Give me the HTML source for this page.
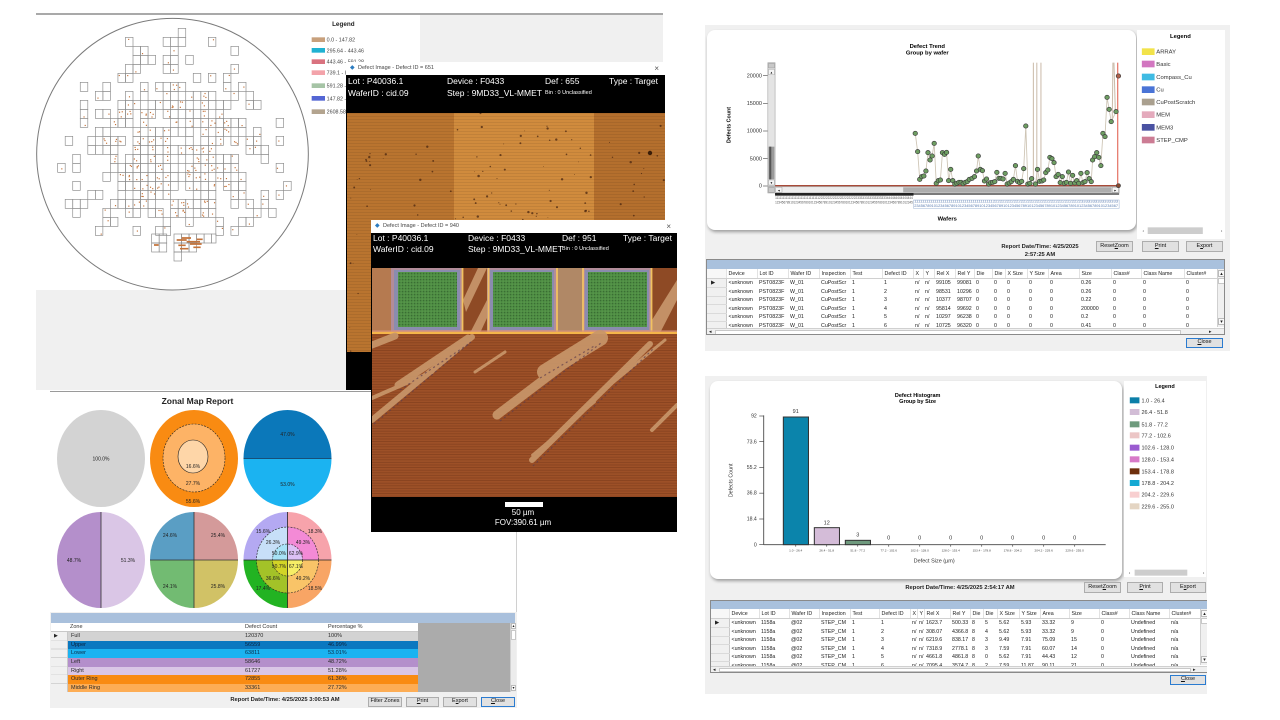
<!DOCTYPE html>
<html><head><meta charset="utf-8"><title>Defect reports</title>
<style>
*{box-sizing:border-box}
html,body{margin:0;padding:0}
body{width:1280px;height:720px;position:relative;overflow:hidden;background:#fff;font-family:"Liberation Sans",Arial,sans-serif;color:#222}
.a{position:absolute}
.btn{position:absolute;background:#e1e1e1;border:1px solid #adadad;font-size:5.5px;color:#111;display:flex;align-items:center;justify-content:center;line-height:1;white-space:nowrap}
.hd{position:absolute;color:#fff;font-size:8.5px;line-height:10px;white-space:nowrap}
.sm{font-size:5.5px}
.tb{position:absolute;left:0;top:0;right:0;height:13px;background:#fff;font-size:5.5px;color:#444;line-height:13px;padding-left:12px;white-space:nowrap}
.tb i{position:absolute;left:4px;top:0;font-style:normal;color:#2b7cc0;font-size:6px}
.tb b{position:absolute;right:6px;top:0;font-weight:normal;color:#555;font-size:8px}
table.g{position:absolute;border-collapse:collapse;table-layout:fixed;font-size:5.3px;color:#222}
table.g td{height:8.5px;padding:0 0 0 2px;white-space:nowrap;overflow:hidden;line-height:8px}
table.g tr.h td{height:9.4px;border-right:1px solid #e2e2e2;border-bottom:1px solid #d0d0d0}
table.g td.rh{background:#f0f0f0;border-right:1px solid #c8c8c8;border-bottom:1px solid #dadada;padding:0 0 0 4px}
#dies rect{fill:none;stroke:#8c8c8c;stroke-width:2}
#dies rect.sp{fill:#c4733a;stroke:none}
.zr{position:relative;height:8.65px;font-size:5.5px;line-height:8.65px}
.zr span{position:absolute;top:0}
</style></head>
<body>

<!-- ================= WAFER MAP PANEL ================= -->
<div class="a" style="left:36px;top:13px;width:627px;height:377px;background:#f0f0f0;border-top:2px solid #a9a9a9"></div>
<div class="a" style="left:36px;top:15px;width:384px;height:275px;background:#fff"></div>
<svg class="a" style="left:30px;top:10px" width="400" height="290" viewBox="0 0 1200 870">
  <g id="dies"></g>
  <g fill="none" stroke="#8c8c8c" stroke-width="2">
    <rect x="365" y="672" width="22.6" height="27"/><rect x="387.6" y="672" width="22.6" height="27"/>
    <rect x="365" y="699" width="22.6" height="27"/><rect x="387.6" y="699" width="22.6" height="27"/>
    <rect x="432" y="672" width="22.6" height="27"/><rect x="454.6" y="672" width="22.6" height="27"/><rect x="477.2" y="672" width="22.6" height="27"/><rect x="499.8" y="672" width="22.6" height="27"/><rect x="522.4" y="672" width="22.6" height="27"/><rect x="545" y="672" width="13" height="27"/>
    <rect x="432" y="699" width="22.6" height="27"/><rect x="454.6" y="699" width="22.6" height="27"/><rect x="477.2" y="699" width="22.6" height="27"/>
    <rect x="432" y="726" width="22.6" height="27"/>
  </g>
  <path d="M440 690h30M455 684h28M470 695h40M445 706h22M480 702h35M450 716h25M490 712h22M372 705h14M500 688h18" stroke="#c4733a" stroke-width="5" fill="none"/>
  <ellipse cx="427.5" cy="432.5" rx="407.5" ry="407.5" fill="none" stroke="#7a7a7a" stroke-width="3"/>
  <text x="940" y="48" font-size="19" font-weight="bold" text-anchor="middle" fill="#222">Legend</text>
  <g font-size="16" fill="#444">
    <rect x="845" y="82" width="40" height="14" fill="#c8a07c"/><text x="890" y="95">0.0 - 147.82</text>
    <rect x="845" y="114" width="40" height="14" fill="#1fb2d2"/><text x="890" y="127">295.64 - 443.46</text>
    <rect x="845" y="148" width="40" height="14" fill="#d9727f"/><text x="890" y="161">443.46 - 591.28</text>
    <rect x="845" y="181" width="40" height="14" fill="#f3a3aa"/><text x="890" y="194">739.1 - 886.92</text>
    <rect x="845" y="220" width="40" height="14" fill="#a6c4a6"/><text x="890" y="233">591.28 - 739.1</text>
    <rect x="845" y="258" width="40" height="14" fill="#5466d4"/><text x="890" y="271">147.82 - 295.64</text>
    <rect x="845" y="298" width="40" height="14" fill="#b3a48f"/><text x="890" y="311">2608.58 - 2756.4</text>
  </g>
</svg>

<!-- ================= ZONAL MAP REPORT ================= -->
<div class="a" style="left:50px;top:391px;width:467px;height:317px;background:#f0f0f0;border-top:1px solid #9a9a9a"></div>
<div class="a" style="left:50px;top:392px;width:467px;height:220px;background:#fff;border-right:1px solid #d0d0d0"></div>
<div class="a" style="left:140px;top:396px;width:115px;text-align:center;font-size:8.5px;font-weight:bold;line-height:10px">Zonal Map Report</div>
<svg class="a" style="left:50px;top:392px" width="470" height="220" viewBox="50 392 470 220">
  <defs>
    <clipPath id="c3"><ellipse cx="287.5" cy="458.5" rx="44" ry="48.5"/></clipPath>
    <clipPath id="c4"><ellipse cx="101" cy="560" rx="44" ry="48"/></clipPath>
    <clipPath id="c5"><ellipse cx="194" cy="560" rx="44" ry="48"/></clipPath>
    <clipPath id="c6o"><ellipse cx="287.5" cy="560" rx="44" ry="48"/></clipPath>
    <clipPath id="c6m"><ellipse cx="287.5" cy="560" rx="31" ry="33"/></clipPath>
    <clipPath id="c6i"><ellipse cx="287.5" cy="560" rx="15" ry="16"/></clipPath>
  </defs>
  <ellipse cx="101" cy="458.5" rx="44" ry="48.5" fill="#d3d3d3"/>
  <ellipse cx="194" cy="458.5" rx="44" ry="48.5" fill="#f98b12"/>
  <ellipse cx="194" cy="458" rx="31" ry="34" fill="#fdb366" stroke="#222" stroke-width=".6" stroke-dasharray="2 1.2"/>
  <ellipse cx="193" cy="456.5" rx="15" ry="16.5" fill="#fed6a8" stroke="#222" stroke-width=".6"/>
  <g clip-path="url(#c3)">
    <rect x="240" y="405" width="95" height="53.5" fill="#0b78ba"/>
    <rect x="240" y="458.5" width="95" height="55" fill="#1bb3f1"/>
    <line x1="240" y1="458.5" x2="335" y2="458.5" stroke="#1a3a5a" stroke-width=".7"/>
  </g>
  <g clip-path="url(#c4)">
    <rect x="55" y="510" width="46" height="100" fill="#b48fcb"/>
    <rect x="101" y="510" width="46" height="100" fill="#dac6e6"/>
    <line x1="101" y1="510" x2="101" y2="610" stroke="#333" stroke-width=".8"/>
  </g>
  <g clip-path="url(#c5)">
    <rect x="148" y="510" width="46" height="50" fill="#5a9ec4"/>
    <rect x="194" y="510" width="46" height="50" fill="#d49a9a"/>
    <rect x="148" y="560" width="46" height="50" fill="#72bb72"/>
    <rect x="194" y="560" width="46" height="50" fill="#d1c266"/>
    <line x1="194" y1="510" x2="194" y2="610" stroke="#333" stroke-width=".8"/>
    <line x1="148" y1="560" x2="240" y2="560" stroke="#333" stroke-width=".8"/>
  </g>
  <g clip-path="url(#c6o)">
    <rect x="242" y="510" width="45.5" height="50" fill="#b4a9f2"/>
    <rect x="287.5" y="510" width="46" height="50" fill="#f7a3ab"/>
    <rect x="242" y="560" width="45.5" height="50" fill="#22b322"/>
    <rect x="287.5" y="560" width="46" height="50" fill="#f8a565"/>
  </g>
  <g clip-path="url(#c6m)">
    <rect x="255" y="525" width="32.5" height="35" fill="#c7dff8"/>
    <rect x="287.5" y="525" width="33" height="35" fill="#f38ad6"/>
    <rect x="255" y="560" width="32.5" height="35" fill="#a3c228"/>
    <rect x="287.5" y="560" width="33" height="35" fill="#f9c468"/>
  </g>
  <g clip-path="url(#c6i)">
    <rect x="270" y="542" width="17.5" height="18" fill="#a7e3f7"/>
    <rect x="287.5" y="542" width="18" height="18" fill="#dcc1f5"/>
    <rect x="270" y="560" width="17.5" height="18" fill="#d2d426"/>
    <rect x="287.5" y="560" width="18" height="18" fill="#f7ee66"/>
  </g>
  <ellipse cx="287.5" cy="560" rx="31" ry="33" fill="none" stroke="#222" stroke-width=".6" stroke-dasharray="2 1.2"/>
  <ellipse cx="287.5" cy="560" rx="15" ry="16" fill="none" stroke="#222" stroke-width=".6" stroke-dasharray="2 1.2"/>
  <g clip-path="url(#c6o)">
    <line x1="287.5" y1="510" x2="287.5" y2="610" stroke="#222" stroke-width=".8"/>
    <line x1="242" y1="560" x2="334" y2="560" stroke="#222" stroke-width=".8"/>
  </g>
  <g font-size="5" fill="#222" text-anchor="middle">
    <text x="101" y="460.5">100.0%</text>
    <text x="193" y="468">16.6%</text><text x="193" y="485">27.7%</text><text x="193" y="503">55.6%</text>
    <text x="287.5" y="436">47.0%</text><text x="287.5" y="486">53.0%</text>
    <text x="74" y="562">48.7%</text><text x="128" y="562">51.3%</text>
    <text x="170" y="537">24.6%</text><text x="218" y="537">25.4%</text><text x="170" y="588">24.1%</text><text x="218" y="588">25.8%</text>
    <text x="263" y="533">15.6%</text><text x="315" y="533">18.3%</text>
    <text x="273" y="544">26.3%</text><text x="303" y="544">49.3%</text>
    <text x="279" y="555">50.0%</text><text x="296" y="555">62.9%</text>
    <text x="279" y="568">50.7%</text><text x="296" y="568">67.1%</text>
    <text x="273" y="580">36.6%</text><text x="303" y="580">49.2%</text>
    <text x="263" y="590">17.4%</text><text x="315" y="590">18.5%</text>
  </g>
</svg>
<div class="a" style="left:51px;top:613px;width:464px;height:10px;background:#a9c0dc"></div>
<div class="a" style="left:51px;top:623px;width:367px;height:9.3px;background:#fff;border-bottom:1px solid #c8c8c8;font-size:5.5px;line-height:9px;color:#333">
  <span class="a" style="left:19px">Zone</span><span class="a" style="left:194px">Defect Count</span><span class="a" style="left:277px">Percentage %</span>
</div>
<div class="a" style="left:418px;top:623px;width:92px;height:69px;background:#ababab"></div>
<div class="a" style="left:510px;top:623px;width:6px;height:69px;background:#ececec;border-left:1px solid #d0d0d0">
  <div class="a" style="left:0;top:0;width:5px;height:6px;background:#fafafa;border:1px solid #bbb;font-size:4px;line-height:4px;text-align:center">▴</div>
  <div class="a" style="left:0;top:7px;width:5px;height:10px;background:#fff;border:1px solid #c8c8c8"></div>
  <div class="a" style="left:0;top:62px;width:5px;height:6px;background:#fafafa;border:1px solid #bbb;font-size:4px;line-height:4px;text-align:center">▾</div>
</div>
<div class="a" style="left:51px;top:632px;width:17px;height:60px;background:#f0f0f0;border-right:1px solid #c8c8c8;background-image:repeating-linear-gradient(to bottom,transparent 0 7.9px,#d4d4d4 7.9px 8.65px)">
  <span class="a" style="left:3px;top:1px;font-size:5px">▶</span>
</div>
<div class="a" style="left:68px;top:632px;width:350px;height:60px;overflow:hidden;color:#2a2a2a">
  <div class="zr" style="background:#d3d3d3"><span style="left:3px">Full</span><span style="left:177px">120370</span><span style="left:260px">100%</span></div>
  <div class="zr" style="background:#0b78c0;color:#0b1f3a"><span style="left:3px">Upper</span><span style="left:177px">56559</span><span style="left:260px">46.99%</span></div>
  <div class="zr" style="background:#1bb3f1;color:#0b2a44"><span style="left:3px">Lower</span><span style="left:177px">63811</span><span style="left:260px">53.01%</span></div>
  <div class="zr" style="background:#b48fcb"><span style="left:3px">Left</span><span style="left:177px">58646</span><span style="left:260px">48.72%</span></div>
  <div class="zr" style="background:#dac6e6"><span style="left:3px">Right</span><span style="left:177px">61727</span><span style="left:260px">51.28%</span></div>
  <div class="zr" style="background:#f98b12"><span style="left:3px">Outer Ring</span><span style="left:177px">72855</span><span style="left:260px">61.36%</span></div>
  <div class="zr" style="background:#fdad55"><span style="left:3px">Middle Ring</span><span style="left:177px">33361</span><span style="left:260px">27.72%</span></div>
</div>
<div class="a" style="left:215px;top:696px;width:140px;text-align:center;font-size:5.8px;font-weight:bold;line-height:8px;white-space:nowrap">Report Date/Time: 4/25/2025 3:00:53 AM</div>
<div class="btn" style="left:368px;top:697px;width:34px;height:10px">Filter Zones</div>
<div class="btn" style="left:406px;top:697px;width:33px;height:10px"><u>P</u>rint</div>
<div class="btn" style="left:443px;top:697px;width:34px;height:10px">E<u>x</u>port</div>
<div class="btn" style="left:481px;top:697px;width:34px;height:10px;border-color:#2a7bd0"><u>C</u>lose</div>

<!-- ================= DEFECT IMAGE WINDOW 1 ================= -->
<div class="a" style="left:346px;top:62px;width:319px;height:328px;background:#000;overflow:hidden">
  <div class="tb"><i>◆</i>Defect Image - Defect ID = 651<b>×</b></div>
  <div class="hd" style="left:2px;top:14px">Lot : P40036.1</div>
  <div class="hd" style="left:101px;top:14px">Device : F0433</div>
  <div class="hd" style="left:199px;top:14px">Def : 655</div>
  <div class="hd" style="left:263px;top:14px">Type : Target</div>
  <div class="hd" style="left:2px;top:26px">WaferID : cid.09</div>
  <div class="hd" style="left:101px;top:26px">Step : 9MD33_VL-MMET</div>
  <div class="hd sm" style="left:199px;top:26px">Bin : 0 Unclassified</div>
  <div class="a" style="left:1px;top:51px;width:318px;height:239px;background:repeating-linear-gradient(to bottom,rgba(0,0,0,.07) 0 1px,transparent 1px 3px),linear-gradient(to right,#b9742f 0 107px,#d08b3d 107px 247px,#b46f2d 247px)">
    <svg class="a" style="left:0;top:0" width="318" height="239" viewBox="0 0 318 239"><g id="sp1" fill="#4a2610" fill-opacity=".75"></g>
      <circle cx="303" cy="40" r="2.2" fill="#3a1d08"/></svg>
  </div>
</div>

<!-- ================= DEFECT IMAGE WINDOW 2 ================= -->
<div class="a" style="left:371px;top:220px;width:306px;height:312px;background:#000;overflow:hidden">
  <div class="tb"><i>◆</i>Defect Image - Defect ID = 940<b>×</b></div>
  <div class="hd" style="left:2px;top:13px">Lot : P40036.1</div>
  <div class="hd" style="left:97px;top:13px">Device : F0433</div>
  <div class="hd" style="left:191px;top:13px">Def : 951</div>
  <div class="hd" style="left:252px;top:13px">Type : Target</div>
  <div class="hd" style="left:2px;top:24px">WaferID : cid.09</div>
  <div class="hd" style="left:97px;top:24px">Step : 9MD33_VL-MMET</div>
  <div class="hd sm" style="left:191px;top:24px">Bin : 0 Unclassified</div>
  <svg class="a" style="left:1px;top:48px" width="305" height="229" viewBox="372 268 305 229">
    <defs>
      <pattern id="hl" width="4" height="2.6" patternUnits="userSpaceOnUse"><rect width="4" height="2.6" fill="#9d5027"/><rect y="1.8" width="4" height=".8" fill="#86421f"/></pattern>
      <pattern id="gp" width="3" height="3" patternUnits="userSpaceOnUse"><rect width="3" height="3" fill="#4d8c43"/><rect width="1.2" height="1.2" fill="#3a6d33"/><rect x="1.6" y="1.6" width="1" height="1" fill="#67a653"/></pattern>
    </defs>
    <rect x="372" y="268" width="305" height="229" fill="url(#hl)"/>
    <rect x="372" y="268" width="305" height="65" fill="#a5643d"/>
    <polygon points="372,268 391,268 391,333 372,333" fill="#b57a50"/>
    <polygon points="463,268 487,268 487,333 463,333" fill="#8e4a25"/>
    <polygon points="470,333 487,300 487,318 480,333" fill="#c39066"/>
    <polygon points="463,300 478,268 487,268 466,312" fill="#c39066"/>
    <polygon points="557,268 582,268 582,333 557,333" fill="#b08866"/>
    <polygon points="652,268 677,268 677,333 652,333" fill="#8e4a25"/>
    <polygon points="652,320 677,280 677,300 660,333 652,333" fill="#c39066"/>
    <g>
      <rect x="391" y="268" width="72" height="65" fill="#b28c99"/><rect x="394" y="270" width="66" height="60" fill="#8a8cae"/><rect x="398" y="272" width="59" height="55" fill="url(#gp)"/>
      <rect x="487" y="268" width="70" height="65" fill="#b28c99"/><rect x="490" y="270" width="64" height="60" fill="#8a8cae"/><rect x="493" y="272" width="59" height="55" fill="url(#gp)"/>
      <rect x="582" y="268" width="70" height="65" fill="#b28c99"/><rect x="585" y="270" width="64" height="60" fill="#8a8cae"/><rect x="588" y="272" width="59" height="55" fill="url(#gp)"/>
    </g>
    <g stroke="#f2c261" stroke-width="1.8">
      <line x1="462.5" y1="268" x2="462.5" y2="333"/><line x1="488.5" y1="268" x2="488.5" y2="333"/>
      <line x1="557" y1="268" x2="557" y2="333"/><line x1="583" y1="268" x2="583" y2="333"/>
      <line x1="651.5" y1="268" x2="651.5" y2="333"/>
    </g>
    <rect x="372" y="330.5" width="305" height="1.2" fill="#d8907e"/>
    <rect x="372" y="331.8" width="305" height="2.2" fill="#f5b54a"/>
    <g stroke="#c8966a" stroke-linecap="round" fill="none" opacity=".92">
      <line x1="372" y1="420" x2="472" y2="337" stroke-width="6"/>
      <line x1="398" y1="385" x2="468" y2="338" stroke-width="7"/>
      <line x1="372" y1="398" x2="432" y2="372" stroke-width="4"/>
      <line x1="475" y1="372" x2="505" y2="352" stroke-width="3"/>
      <line x1="497" y1="415" x2="600" y2="337" stroke-width="9"/>
      <line x1="545" y1="372" x2="600" y2="338" stroke-width="16"/>
      <line x1="532" y1="460" x2="650" y2="344" stroke-width="6"/>
      <line x1="610" y1="385" x2="665" y2="340" stroke-width="3"/>
      <line x1="652" y1="430" x2="677" y2="405" stroke-width="4"/>
      <line x1="532" y1="455" x2="595" y2="402" stroke-width="2"/>
      <line x1="372" y1="345" x2="395" y2="336" stroke-width="7"/>
    </g>
    <g stroke="#5e3d4c" stroke-width="1.2" stroke-dasharray="2 3" fill="none" opacity=".7">
      <line x1="374" y1="424" x2="472" y2="341"/>
      <line x1="400" y1="390" x2="470" y2="343"/>
      <line x1="500" y1="421" x2="601" y2="343"/>
      <line x1="533" y1="466" x2="653" y2="349"/>
      <line x1="540" y1="378" x2="596" y2="345"/>
    </g>
  </svg>
  <div class="a" style="left:134px;top:282px;width:38px;height:5px;background:#fff"></div>
  <div class="a" style="left:100px;top:288px;width:104px;text-align:center;color:#fff;font-size:8px;line-height:10px">50 µm<br>FOV:390.61 µm</div>
</div>

<!-- ================= DEFECT TREND PANEL ================= -->
<div class="a" style="left:705px;top:25px;width:525px;height:326px;background:#f0f0f0"></div>
<div class="a" style="left:707px;top:30px;width:429px;height:200px;background:#fff;border-radius:8px;box-shadow:1px 2px 3px rgba(0,0,0,.35)"></div>
<div class="a" style="left:1137px;top:30px;width:88px;height:209px;background:#fff"></div>
<svg class="a" style="left:700px;top:20px" width="540" height="230" viewBox="0 0 1568 690" preserveAspectRatio="none">
  <defs>
    <marker id="pt" markerWidth="18" markerHeight="18" refX="9" refY="9" markerUnits="userSpaceOnUse"><circle cx="9" cy="9" r="6.5" fill="#6e9e62" stroke="#3b3b3b" stroke-width="2"/></marker>
  </defs>
  <text x="660" y="84" font-size="17" font-weight="bold" text-anchor="middle">Defect Trend</text>
  <text x="660" y="103" font-size="17" font-weight="bold" text-anchor="middle">Group by wafer</text>
  <text transform="translate(88,315) rotate(-90)" font-size="16" font-weight="bold" text-anchor="middle">Defects Count</text>
  <g font-size="16" fill="#333" text-anchor="end">
    <text x="180" y="172">20000</text><text x="180" y="255">15000</text><text x="180" y="338">10000</text><text x="180" y="421">5000</text><text x="180" y="503">0</text>
  </g>
  <g stroke="#555" stroke-width="2">
    <line x1="183" y1="167" x2="197" y2="167"/><line x1="183" y1="250" x2="197" y2="250"/><line x1="183" y1="333" x2="197" y2="333"/><line x1="183" y1="416" x2="197" y2="416"/><line x1="183" y1="498" x2="197" y2="498"/>
  </g>
  <rect x="197" y="128" width="21" height="370" fill="#e4e4e4" stroke="#9a9a9a" stroke-width="1.5"/>
  <rect x="199" y="130" width="17" height="14" fill="#c8c8c8" stroke="#777" stroke-width="1"/>
  <rect x="199" y="148" width="17" height="16" fill="#f4f4f4" stroke="#888" stroke-width="1"/>
  <text x="207.5" y="161" font-size="11" text-anchor="middle">▴</text>
  <rect x="199" y="380" width="17" height="98" fill="#9a9a9a"/>
  <rect x="201" y="380" width="6" height="98" fill="#555"/>
  <rect x="199" y="480" width="17" height="15" fill="#f4f4f4" stroke="#888" stroke-width="1"/>
  <text x="207.5" y="492" font-size="11" text-anchor="middle">▾</text>
  <line x1="218" y1="497" x2="1217" y2="497" stroke="#a84a38" stroke-width="4"/>
  <rect x="197" y="500" width="1020" height="19" fill="#e0e0e0" stroke="#9a9a9a" stroke-width="1.5"/>
  <rect x="199" y="502" width="17" height="15" fill="#c8c8c8" stroke="#777" stroke-width="1"/>
  <rect x="220" y="502" width="18" height="15" fill="#f4f4f4" stroke="#888" stroke-width="1"/>
  <text x="229" y="514" font-size="11" text-anchor="middle">◂</text>
  <rect x="240" y="502" width="350" height="15" fill="#ececec"/>
  <rect x="590" y="502" width="605" height="15" fill="#adadad"/>
  <rect x="1197" y="502" width="18" height="15" fill="#f4f4f4" stroke="#888" stroke-width="1"/>
  <text x="1206" y="514" font-size="11" text-anchor="middle">▸</text>
  <rect x="218" y="519" width="999" height="6" fill="#7a7a7a"/>
  <rect x="218" y="519" width="402" height="8" fill="#222"/>
  <g font-size="10" fill="#555">
    <text x="218" y="537" textLength="400" lengthAdjust="spacingAndGlyphs">11111111111111111111111111111222222222222222222222233333333333333333444444444444444</text>
    <text x="218" y="550" textLength="400" lengthAdjust="spacingAndGlyphs">1234567891012345678910123456789101234567891012345678910123456789101234567891012345</text>
  </g>
  <g font-size="10" fill="#5a7cb0">
    <text x="622" y="547" textLength="592" lengthAdjust="spacingAndGlyphs">111111111111111111111111111111111111111222222222222222222222222222222222222223333333333333333</text>
    <text x="622" y="561" textLength="592" lengthAdjust="spacingAndGlyphs">2345678910123456789101234567891012345678910123456789101234567891012345678910123456789101234567</text>
  </g>
  <rect x="620" y="540" width="597" height="25" fill="none" stroke="#9fb4d4" stroke-width="1.5"/>
  <text x="718" y="602" font-size="17" font-weight="bold" text-anchor="middle">Wafers</text>
  <g stroke="#cbbcab" stroke-width="3">
    <line x1="968" y1="128" x2="968" y2="482"/><line x1="978" y1="128" x2="978" y2="490"/><line x1="990" y1="128" x2="990" y2="482"/>
    <line x1="1199" y1="128" x2="1197" y2="305"/><line x1="1202" y1="128" x2="1206" y2="275"/>
  </g>
  <line x1="1213" y1="128" x2="1213" y2="498" stroke="#e05a4a" stroke-width="3"/>
  <polyline fill="none" stroke="#cdc4b4" stroke-width="2.5" marker-start="url(#pt)" marker-mid="url(#pt)" marker-end="url(#pt)" points="625,340 632,395 638,478 644,470 650,468 656,453 662,398 668,420 674,408 680,370 686,490 692,482 698,480 704,398 710,403 716,397 722,482 728,448 734,482 740,492 746,490 752,487 758,487 764,491 770,487 776,485 782,478 790,475 797,470 803,453 808,408 814,448 820,452 826,483 832,477 838,492 844,488 850,487 856,485 862,457 868,475 874,475 880,477 886,460 892,492 898,489 904,485 910,478 916,437 922,484 928,488 934,484 940,446 946,318 952,492 958,490 963,476 974,492 980,448 986,484 993,483 998,480 1004,458 1010,450 1016,412 1022,416 1028,428 1034,470 1040,463 1046,488 1052,470 1058,490 1064,487 1070,456 1076,490 1082,466 1088,489 1094,482 1100,490 1106,460 1112,488 1118,485 1124,458 1130,476 1136,485 1140,420 1146,410 1152,398 1158,412 1164,437 1170,340 1176,350 1182,232 1188,268 1194,305 1208,275"/>
  <circle cx="1215" cy="168" r="6.5" fill="#b0604a" stroke="#3b3b3b" stroke-width="2"/>
  <circle cx="1215" cy="497" r="6" fill="#8a4a30" stroke="#3b3b3b" stroke-width="2"/>
  <text x="1395" y="54" font-size="17" font-weight="bold" text-anchor="middle">Legend</text>
  <g font-size="17" fill="#333">
    <rect x="1283" y="85" width="37" height="20" fill="#f2e34a"/><text x="1325" y="101">ARRAY</text>
    <rect x="1283" y="122" width="37" height="20" fill="#d276c0"/><text x="1325" y="138">Basic</text>
    <rect x="1283" y="161" width="37" height="20" fill="#3fbbe3"/><text x="1325" y="177">Compass_Cu</text>
    <rect x="1283" y="199" width="37" height="20" fill="#4a74d6"/><text x="1325" y="215">Cu</text>
    <rect x="1283" y="236" width="37" height="20" fill="#aaa08f"/><text x="1325" y="252">CuPostScratch</text>
    <rect x="1283" y="274" width="37" height="20" fill="#e4aabc"/><text x="1325" y="290">MEM</text>
    <rect x="1283" y="312" width="37" height="20" fill="#4a52a2"/><text x="1325" y="328">MEM3</text>
    <rect x="1283" y="350" width="37" height="20" fill="#cc7c94"/><text x="1325" y="366">STEP_CMP</text>
  </g>
  <text x="1285" y="637" font-size="14" fill="#444">‹</text>
  <rect x="1300" y="622" width="160" height="20" fill="#cdcdcd"/>
  <text x="1512" y="637" font-size="14" fill="#444">›</text>
</svg>
<div class="a" style="left:985px;top:243px;width:110px;text-align:center;font-size:5.8px;font-weight:bold;line-height:8px;white-space:nowrap">Report Date/Time: 4/25/2025<br>2:57:25 AM</div>
<div class="btn" style="left:1096px;top:241px;width:37px;height:11px">Reset <u>Z</u>oom</div>
<div class="btn" style="left:1142px;top:241px;width:37px;height:11px"><u>P</u>rint</div>
<div class="btn" style="left:1186px;top:241px;width:37px;height:11px">E<u>x</u>port</div>
<div class="a" style="left:706px;top:259px;width:519px;height:76px;background:#fff;border:1px solid #8a8a8a;overflow:hidden">
  <div class="a" style="left:0;top:0;width:519px;height:9.3px;background:#a9c1dd"></div>
  <table class="g" style="left:0;top:9.3px;width:510px">
    <colgroup><col style="width:19px"><col style="width:31px"><col style="width:31px"><col style="width:31px"><col style="width:31px"><col style="width:32px"><col style="width:31px"><col style="width:10px"><col style="width:11px"><col style="width:21px"><col style="width:19px"><col style="width:18px"><col style="width:13px"><col style="width:22px"><col style="width:21px"><col style="width:31px"><col style="width:32px"><col style="width:30px"><col style="width:43px"><col style="width:33px"></colgroup>
    <tr class="h"><td style="background:#f7f7f7"></td><td>Device</td><td>Lot ID</td><td>Wafer ID</td><td>Inspection</td><td>Test</td><td>Defect ID</td><td>X</td><td>Y</td><td>Rel X</td><td>Rel Y</td><td>Die</td><td>Die</td><td>X Size</td><td>Y Size</td><td>Area</td><td>Size</td><td>Class#</td><td>Class Name</td><td>Cluster#</td></tr>
    <tr><td class="rh">▶</td><td>&lt;unknown</td><td>PST0823F</td><td>W_01</td><td>CuPostScr</td><td>1</td><td>1</td><td>n/</td><td>n/</td><td>99105</td><td>99081</td><td>0</td><td>0</td><td>0</td><td>0</td><td>0</td><td>0.26</td><td>0</td><td>0</td><td>0</td></tr>
    <tr><td class="rh"></td><td>&lt;unknown</td><td>PST0823F</td><td>W_01</td><td>CuPostScr</td><td>1</td><td>2</td><td>n/</td><td>n/</td><td>98531</td><td>10296</td><td>0</td><td>0</td><td>0</td><td>0</td><td>0</td><td>0.26</td><td>0</td><td>0</td><td>0</td></tr>
    <tr><td class="rh"></td><td>&lt;unknown</td><td>PST0823F</td><td>W_01</td><td>CuPostScr</td><td>1</td><td>3</td><td>n/</td><td>n/</td><td>10377</td><td>98707</td><td>0</td><td>0</td><td>0</td><td>0</td><td>0</td><td>0.22</td><td>0</td><td>0</td><td>0</td></tr>
    <tr><td class="rh"></td><td>&lt;unknown</td><td>PST0823F</td><td>W_01</td><td>CuPostScr</td><td>1</td><td>4</td><td>n/</td><td>n/</td><td>95814</td><td>99692</td><td>0</td><td>0</td><td>0</td><td>0</td><td>0</td><td>200000</td><td>0</td><td>0</td><td>0</td></tr>
    <tr><td class="rh"></td><td>&lt;unknown</td><td>PST0823F</td><td>W_01</td><td>CuPostScr</td><td>1</td><td>5</td><td>n/</td><td>n/</td><td>10297</td><td>96238</td><td>0</td><td>0</td><td>0</td><td>0</td><td>0</td><td>0.2</td><td>0</td><td>0</td><td>0</td></tr>
    <tr><td class="rh"></td><td>&lt;unknown</td><td>PST0823F</td><td>W_01</td><td>CuPostScr</td><td>1</td><td>6</td><td>n/</td><td>n/</td><td>10725</td><td>96320</td><td>0</td><td>0</td><td>0</td><td>0</td><td>0</td><td>0.41</td><td>0</td><td>0</td><td>0</td></tr>
  </table>
  <div class="a" style="left:510px;top:9.3px;width:8px;height:58px;background:#f0f0f0;border-left:1px solid #d0d0d0">
    <div class="a" style="left:0;top:1px;width:7px;height:7px;font-size:5px;text-align:center;line-height:7px;background:#fafafa;border:1px solid #bbb">▴</div>
    <div class="a" style="left:0;top:9px;width:7px;height:6px;background:#fff;border:1px solid #c8c8c8"></div>
    <div class="a" style="left:0;top:49px;width:7px;height:7px;font-size:5px;text-align:center;line-height:7px;background:#fafafa;border:1px solid #bbb">▾</div>
  </div>
  <div class="a" style="left:0;top:67.5px;width:518px;height:8px;background:#f0f0f0;border-top:1px solid #d0d0d0">
    <span class="a" style="left:2px;top:0;font-size:5px;line-height:7px">◂</span>
    <div class="a" style="left:8px;top:1px;width:466px;height:5px;background:#fff;border:1px solid #c8c8c8"></div>
    <span class="a" style="left:502px;top:0;font-size:5px;line-height:7px">▸</span>
  </div>
</div>
<div class="btn" style="left:1186px;top:338px;width:37px;height:10px;border-color:#2a7bd0"><u>C</u>lose</div>

<!-- ================= DEFECT HISTOGRAM PANEL ================= -->
<div class="a" style="left:705px;top:376px;width:502px;height:318px;background:#f0f0f0"></div>
<div class="a" style="left:710px;top:381px;width:412px;height:198px;background:#fff;border-radius:8px;box-shadow:1px 2px 3px rgba(0,0,0,.35)"></div>
<div class="a" style="left:1124px;top:381px;width:82px;height:196px;background:#fff"></div>
<svg class="a" style="left:700px;top:372px" width="540" height="230" viewBox="0 0 1568 690" preserveAspectRatio="none">
  <text x="632" y="75" font-size="16" font-weight="bold" text-anchor="middle">Defect Histogram</text>
  <text x="632" y="93" font-size="16" font-weight="bold" text-anchor="middle">Group by Size</text>
  <text transform="translate(94,325) rotate(-90)" font-size="16" text-anchor="middle" fill="#333">Defects Count</text>
  <line x1="185" y1="130" x2="185" y2="518" stroke="#444" stroke-width="2.5"/>
  <line x1="185" y1="518" x2="1178" y2="518" stroke="#444" stroke-width="2.5"/>
  <g stroke="#444" stroke-width="2">
    <line x1="172" y1="132" x2="185" y2="132"/><line x1="172" y1="209" x2="185" y2="209"/><line x1="172" y1="286.5" x2="185" y2="286.5"/><line x1="172" y1="363.5" x2="185" y2="363.5"/><line x1="172" y1="441" x2="185" y2="441"/><line x1="172" y1="518" x2="185" y2="518"/>
    <line x1="278" y1="518" x2="278" y2="524"/><line x1="368" y1="518" x2="368" y2="524"/><line x1="458" y1="518" x2="458" y2="524"/><line x1="548" y1="518" x2="548" y2="524"/><line x1="638" y1="518" x2="638" y2="524"/><line x1="728" y1="518" x2="728" y2="524"/><line x1="818" y1="518" x2="818" y2="524"/><line x1="908" y1="518" x2="908" y2="524"/><line x1="998" y1="518" x2="998" y2="524"/><line x1="1088" y1="518" x2="1088" y2="524"/>
  </g>
  <g font-size="15" fill="#333" text-anchor="end">
    <text x="165" y="137">92</text><text x="165" y="214">73.6</text><text x="165" y="291">55.2</text><text x="165" y="368">36.8</text><text x="165" y="445">18.4</text><text x="165" y="523">0</text>
  </g>
  <rect x="242" y="135" width="73" height="383" fill="#0b84ab" stroke="#333" stroke-width="3"/>
  <rect x="332" y="467" width="73" height="51" fill="#d4bcd8" stroke="#333" stroke-width="3"/>
  <rect x="422" y="505" width="73" height="13" fill="#6f9a7e" stroke="#333" stroke-width="3"/>
  <g font-size="16" fill="#333" text-anchor="middle">
    <text x="278" y="123">91</text><text x="368" y="457">12</text><text x="458" y="494">3</text>
    <text x="548" y="503">0</text><text x="638" y="503">0</text><text x="728" y="503">0</text><text x="818" y="503">0</text><text x="908" y="503">0</text><text x="998" y="503">0</text><text x="1088" y="503">0</text>
  </g>
  <g font-size="9" fill="#444" text-anchor="middle">
    <text x="278" y="538">1.0 - 26.4</text><text x="368" y="538">26.4 - 51.8</text><text x="458" y="538">51.8 - 77.2</text><text x="548" y="538">77.2 - 102.6</text><text x="638" y="538">102.6 - 128.0</text><text x="728" y="538">128.0 - 153.4</text><text x="818" y="538">153.4 - 178.8</text><text x="908" y="538">178.8 - 204.2</text><text x="998" y="538">204.2 - 229.6</text><text x="1088" y="538">229.6 - 255.0</text>
  </g>
  <text x="680" y="572" font-size="16" fill="#333" text-anchor="middle">Defect Size (µm)</text>
  <text x="1350" y="48" font-size="16" font-weight="bold" text-anchor="middle">Legend</text>
  <g font-size="16" fill="#333">
    <rect x="1248" y="76" width="28" height="18" fill="#0c7fa8"/><text x="1282" y="91">1.0 - 26.4</text>
    <rect x="1248" y="111" width="28" height="18" fill="#d2bdd6"/><text x="1282" y="126">26.4 - 51.8</text>
    <rect x="1248" y="148" width="28" height="18" fill="#6e9b7d"/><text x="1282" y="163">51.8 - 77.2</text>
    <rect x="1248" y="181" width="28" height="18" fill="#ecc6c6"/><text x="1282" y="196">77.2 - 102.6</text>
    <rect x="1248" y="218" width="28" height="18" fill="#9a5bd0"/><text x="1282" y="233">102.6 - 128.0</text>
    <rect x="1248" y="253" width="28" height="18" fill="#d77ac8"/><text x="1282" y="268">128.0 - 153.4</text>
    <rect x="1248" y="289" width="28" height="18" fill="#6e2f0c"/><text x="1282" y="304">153.4 - 178.8</text>
    <rect x="1248" y="324" width="28" height="18" fill="#14a9d3"/><text x="1282" y="339">178.8 - 204.2</text>
    <rect x="1248" y="359" width="28" height="18" fill="#f8cfd0"/><text x="1282" y="374">204.2 - 229.6</text>
    <rect x="1248" y="394" width="28" height="18" fill="#e4d5c3"/><text x="1282" y="409">229.6 - 255.0</text>
  </g>
  <text x="1245" y="607" font-size="14" fill="#444">‹</text>
  <rect x="1262" y="593" width="153" height="18" fill="#cdcdcd"/>
  <text x="1460" y="607" font-size="14" fill="#444">›</text>
</svg>
<div class="a" style="left:895px;top:584px;width:130px;text-align:center;font-size:5.8px;font-weight:bold;line-height:8px;white-space:nowrap">Report Date/Time: 4/25/2025 2:54:17 AM</div>
<div class="btn" style="left:1084px;top:582px;width:37px;height:11px">Reset <u>Z</u>oom</div>
<div class="btn" style="left:1127px;top:582px;width:36px;height:11px"><u>P</u>rint</div>
<div class="btn" style="left:1170px;top:582px;width:36px;height:11px">E<u>x</u>port</div>
<div class="a" style="left:710px;top:600px;width:497px;height:73px;background:#fff;border:1px solid #8a8a8a;border-right:none;overflow:hidden">
  <div class="a" style="left:0;top:0;width:497px;height:8.3px;background:#a9c1dd"></div>
  <table class="g" style="left:0;top:8.3px;width:489px">
    <colgroup><col style="width:18px"><col style="width:30px"><col style="width:30px"><col style="width:30px"><col style="width:31px"><col style="width:29px"><col style="width:31px"><col style="width:7px"><col style="width:7px"><col style="width:26px"><col style="width:20px"><col style="width:13px"><col style="width:14px"><col style="width:22px"><col style="width:21px"><col style="width:29px"><col style="width:30px"><col style="width:30px"><col style="width:40px"><col style="width:31px"></colgroup>
    <tr class="h"><td style="background:#f7f7f7"></td><td>Device</td><td>Lot ID</td><td>Wafer ID</td><td>Inspection</td><td>Test</td><td>Defect ID</td><td>X</td><td>Y</td><td>Rel X</td><td>Rel Y</td><td>Die</td><td>Die</td><td>X Size</td><td>Y Size</td><td>Area</td><td>Size</td><td>Class#</td><td>Class Name</td><td>Cluster#</td></tr>
    <tr><td class="rh">▶</td><td>&lt;unknown</td><td>1158a</td><td>@02</td><td>STEP_CM</td><td>1</td><td>1</td><td>n/</td><td>n/</td><td>1623.7</td><td>500.33</td><td>8</td><td>5</td><td>5.62</td><td>5.93</td><td>33.32</td><td>9</td><td>0</td><td>Undefined</td><td>n/a</td></tr>
    <tr><td class="rh"></td><td>&lt;unknown</td><td>1158a</td><td>@02</td><td>STEP_CM</td><td>1</td><td>2</td><td>n/</td><td>n/</td><td>308.07</td><td>4366.8</td><td>8</td><td>4</td><td>5.62</td><td>5.93</td><td>33.32</td><td>9</td><td>0</td><td>Undefined</td><td>n/a</td></tr>
    <tr><td class="rh"></td><td>&lt;unknown</td><td>1158a</td><td>@02</td><td>STEP_CM</td><td>1</td><td>3</td><td>n/</td><td>n/</td><td>6219.6</td><td>838.17</td><td>8</td><td>3</td><td>9.49</td><td>7.91</td><td>75.09</td><td>15</td><td>0</td><td>Undefined</td><td>n/a</td></tr>
    <tr><td class="rh"></td><td>&lt;unknown</td><td>1158a</td><td>@02</td><td>STEP_CM</td><td>1</td><td>4</td><td>n/</td><td>n/</td><td>7318.9</td><td>2778.1</td><td>8</td><td>3</td><td>7.59</td><td>7.91</td><td>60.07</td><td>14</td><td>0</td><td>Undefined</td><td>n/a</td></tr>
    <tr><td class="rh"></td><td>&lt;unknown</td><td>1158a</td><td>@02</td><td>STEP_CM</td><td>1</td><td>5</td><td>n/</td><td>n/</td><td>4661.8</td><td>4861.8</td><td>8</td><td>0</td><td>5.62</td><td>7.91</td><td>44.43</td><td>12</td><td>0</td><td>Undefined</td><td>n/a</td></tr>
    <tr><td class="rh"></td><td>&lt;unknown</td><td>1158a</td><td>@02</td><td>STEP_CM</td><td>1</td><td>6</td><td>n/</td><td>n/</td><td>7095.4</td><td>3574.7</td><td>8</td><td>2</td><td>7.59</td><td>11.87</td><td>90.11</td><td>21</td><td>0</td><td>Undefined</td><td>n/a</td></tr>
  </table>
  <div class="a" style="left:489px;top:8.3px;width:8px;height:56px;background:#f0f0f0;border-left:1px solid #d0d0d0">
    <div class="a" style="left:0;top:1px;width:7px;height:7px;font-size:5px;text-align:center;line-height:7px;background:#fafafa;border:1px solid #bbb">▴</div>
    <div class="a" style="left:0;top:9px;width:7px;height:6px;background:#fff;border:1px solid #c8c8c8"></div>
    <div class="a" style="left:0;top:47px;width:7px;height:7px;font-size:5px;text-align:center;line-height:7px;background:#fafafa;border:1px solid #bbb">▾</div>
  </div>
  <div class="a" style="left:0;top:65px;width:497px;height:7px;background:#f0f0f0;border-top:1px solid #d0d0d0">
    <span class="a" style="left:2px;top:0;font-size:5px;line-height:6px">◂</span>
    <div class="a" style="left:8px;top:1px;width:472px;height:4px;background:#fff;border:1px solid #c8c8c8"></div>
    <span class="a" style="left:482px;top:0;font-size:5px;line-height:6px">▸</span>
  </div>
</div>
<div class="btn" style="left:1170px;top:675px;width:36px;height:10px;border-color:#2a7bd0"><u>C</u>lose</div>

<script>
(function(){
  var s=20250425;
  function r(){ s^=s<<13; s^=s>>>17; s^=s<<5; return ((s>>>0)%100000)/100000; }
  var out='';
  for(var row=0;row<23;row++){
    for(var c=0;c<31;c++){
      var x=83+c*22.6, y=55+row*27, cx=x+11.3, cy=y+13.5;
      var d=Math.sqrt((cx-427.5)*(cx-427.5)+(cy-432.5)*(cy-432.5))/407.5;
      if(d>0.9) continue;
      var p=d<0.3?0.82:(d<0.55?0.62:(d<0.75?0.33:0.14));
      if(r()<p){
        out+='<rect x="'+x.toFixed(1)+'" y="'+y+'" width="22.6" height="27"/>';
        var n=Math.floor(r()*(d<0.5?4:2));
        for(var k=0;k<n;k++){
          out+='<rect class="sp" x="'+(x+2+r()*16).toFixed(1)+'" y="'+(y+3+r()*19).toFixed(1)+'" width="3.5" height="3.5"/>';
        }
      }
    }
  }
  var g=document.getElementById('dies'); if(g) g.innerHTML=out;
  var o2='';
  for(var i=0;i<320;i++){
    var px=r()*318, py=r()*239;
    if((px<107||px>247)&&r()<0.55) continue;
    var rr=0.35+r()*0.9;
    o2+='<circle cx="'+px.toFixed(1)+'" cy="'+py.toFixed(1)+'" r="'+rr.toFixed(2)+'"/>';
  }
  var g2=document.getElementById('sp1'); if(g2) g2.innerHTML=o2;
})();
</script>
</body></html>
